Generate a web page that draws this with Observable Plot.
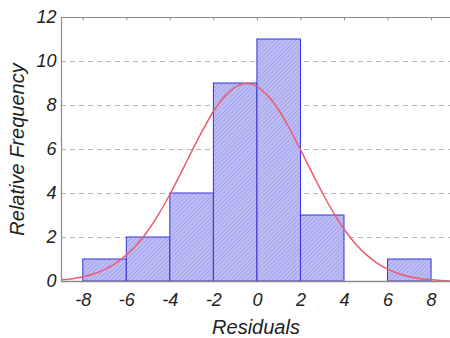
<!DOCTYPE html>
<html>
<head>
<meta charset="utf-8">
<script src="https://cdn.jsdelivr.net/npm/d3@7"></script>
<script src="https://cdn.jsdelivr.net/npm/@observablehq/plot@0.6"></script>
<style>
  html, body { margin: 0; padding: 0; background: #fff; }
</style>
</head>
<body>
<div id="chart"></div>
<script>
// Histogram bins
const binLo = [-8, -6, -4, -2, 0, 2, 4, 6];
const binHi = [-6, -4, -2, 0, 2, 4, 6, 8];
const counts = [1, 2, 4, 9, 11, 3, 0, 1];

// Fitted normal curve
const curveX = [-9, -8.5, -8, -7.5, -7, -6.5, -6, -5.5, -5, -4.5, -4, -3.5, -3, -2.5, -2, -1.5, -1, -0.5,
                0, 0.5, 1, 1.5, 2, 2.5, 3, 3.5, 4, 4.5, 5, 5.5, 6, 6.5, 7, 7.5, 8, 8.5, 9];
const curveY = [0.08, 0.13, 0.22, 0.35, 0.55, 0.83, 1.22, 1.72, 2.35, 3.12, 4.0, 4.96, 5.95, 6.9, 7.76, 8.42, 8.85, 9.0,
                8.85, 8.42, 7.76, 6.9, 5.95, 4.96, 4.0, 3.12, 2.35, 1.72, 1.22, 0.83, 0.55, 0.35, 0.22, 0.13, 0.08, 0.04, 0.02];

const xTicks = [-8, -6, -4, -2, 0, 2, 4, 6, 8];
const yTicks = [0, 2, 4, 6, 8, 10, 12];
const gridTicks = [2, 4, 6, 8, 10];
const xTitle = ["Residuals"];
const yTitle = ["Relative Frequency"];

const bars = binLo.map((lo, i) => ({lo, hi: binHi[i], n: counts[i]})).filter(d => d.n > 0);
const curve = curveX.map((x, i) => ({x, y: curveY[i]}));

const frameColor = "#8a8a8a";
const fmt = d => String(d);

const chart = Plot.plot({
  width: 450,
  height: 338,
  marginLeft: 61,
  marginRight: 0,
  marginTop: 17,
  marginBottom: 57,
  style: {fontFamily: "'Liberation Sans', Arial, sans-serif", fontStyle: "italic", fontSize: "18px", color: "#222", background: "#fff"},
  x: {domain: [-9, 8.87]},
  y: {domain: [0, 12]},
  marks: [
    Plot.gridY(gridTicks, {stroke: "#b5b5b5", strokeOpacity: 1, strokeDasharray: "5,4", strokeWidth: 1.2}),
    Plot.rectY(bars, {x1: "lo", x2: "hi", y: "n", fill: "#b8b8f2", stroke: "#3434d8", strokeWidth: 1, inset: 0}),
    Plot.line(curve, {x: "x", y: "y", stroke: "#ef5a6c", strokeWidth: 1.5, curve: "catmull-rom"}),
    Plot.ruleY([0], {stroke: frameColor, strokeWidth: 1.5}),
    Plot.ruleY([12], {stroke: frameColor, strokeWidth: 1.2}),
    Plot.ruleX([-9], {stroke: frameColor, strokeWidth: 1.2}),
    Plot.ruleX(xTicks, {y1: 12, y2: 11.85, stroke: frameColor}),
    Plot.axisX(xTicks, {tickSize: 0, tickPadding: 12, label: null, fontSize: 18, tickFormat: fmt}),
    Plot.axisY(yTicks, {tickSize: 0, tickPadding: 5, label: null, fontSize: 18, tickFormat: fmt}),
    Plot.text(xTitle, {frameAnchor: "bottom", dy: 46, lineAnchor: "middle", fontSize: 20}),
    Plot.text(yTitle, {frameAnchor: "left", rotate: -90, dx: -44, textAnchor: "middle", fontSize: 20})
  ]
});

// hatch pattern for the bars
const svg = d3.select(chart);
const defs = svg.insert("defs", ":first-child");
const pat = defs.append("pattern")
  .attr("id", "hatch")
  .attr("patternUnits", "userSpaceOnUse")
  .attr("width", 3).attr("height", 3)
  .attr("patternTransform", "rotate(45)");
pat.append("rect").attr("width", 3).attr("height", 3).attr("fill", "#bfbff5");
pat.append("line").attr("x1", 0).attr("y1", 0).attr("x2", 0).attr("y2", 3)
  .attr("stroke", "#8f8fe6").attr("stroke-width", 1.2);
svg.selectAll("g[aria-label='rect'] rect").attr("fill", "url(#hatch)");
svg.selectAll("text").style("font-style", "italic");

document.getElementById("chart").appendChild(chart);
</script>
</body>
</html>
